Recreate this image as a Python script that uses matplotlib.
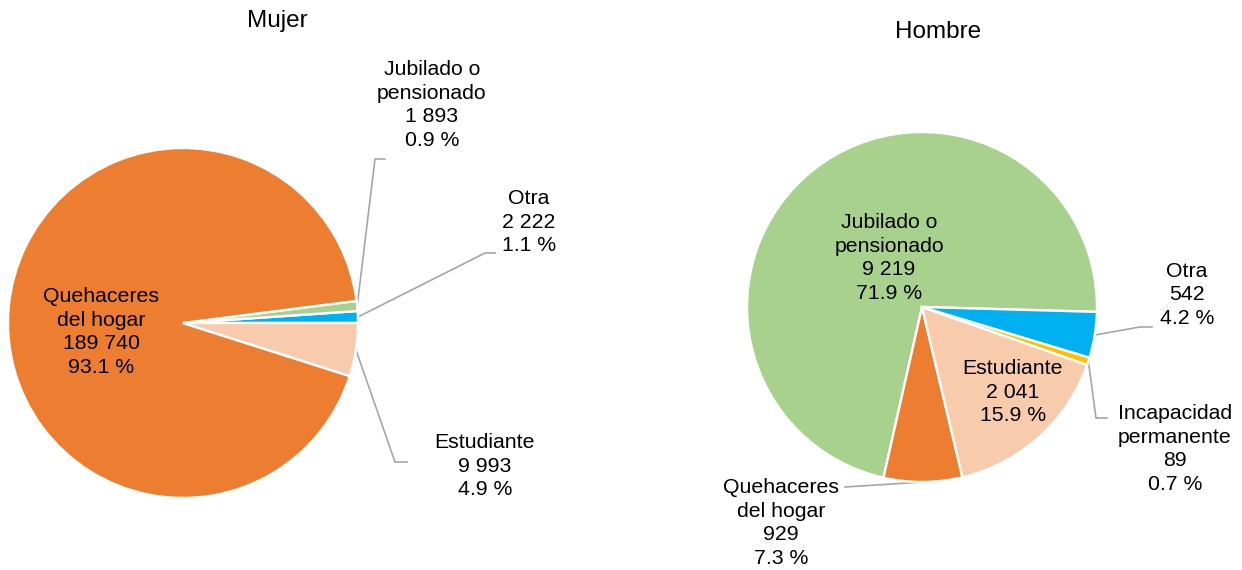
import numpy as np
import matplotlib
matplotlib.use("Agg")
from matplotlib import pyplot as plt

plt.rcParams['font.family'] = ['Liberation Sans', 'DejaVu Sans']

# Mujer
mujer_cats = ["Otra", "Jubilado o\npensionado", "Quehaceres\ndel hogar", "Estudiante"]
mujer_vals = [2222, 1893, 189740, 9993]
mujer_pct = [1.1, 0.9, 93.1, 4.9]
mujer_colors = ["#00B0F0", "#A9D18E", "#ED7D31", "#F8CBAD"]

# Hombre
hombre_cats = ["Jubilado o\npensionado", "Quehaceres\ndel hogar", "Estudiante",
               "Incapacidad\npermanente", "Otra"]
hombre_vals = [9219, 929, 2041, 89, 542]
hombre_pct = [71.9, 7.3, 15.9, 0.7, 4.2]
hombre_colors = ["#A9D18E", "#ED7D31", "#F8CBAD", "#FFC000", "#00B0F0"]

W, H = 1242, 570

def fmt(cat, v, p):
    return "%s\n%s\n%.1f %%" % (cat, f"{v:,}".replace(",", " "), p)

fig = plt.figure(figsize=(W / 100, H / 100), dpi=100)
ax = fig.add_axes([0, 0, 1, 1])

# label layout in image pixels: (x, y, leader elbow, leader end)
mujer_lab = [(529, 222, (485, 253), (495, 253)),
             (432, 105, (375, 159), (385, 159)),
             (101, 332, None, None),
             (485, 466, (395, 462), (407, 462))]
hombre_lab = [(889, 258, None, None),
              (781, 523, (845, 487), (845, 487)),
              (1013, 392, None, None),
              (1175, 449, (1096, 418), (1107, 418)),
              (1187, 295, (1140, 327), (1152, 327))]

def draw(vals, pct, cats, colors, labs, center, r, start, title, tpos):
    cx, cy = center[0], H - center[1]
    wedges, _ = ax.pie(vals, colors=colors, startangle=start, counterclock=True,
                       center=(cx, cy), radius=r,
                       wedgeprops=dict(edgecolor="white", linewidth=1.7))
    for w, v, p, c, (lx, ly, elb, end) in zip(wedges, vals, pct, cats, labs):
        ax.text(lx, H - ly, fmt(c, v, p), ha="center", va="center",
                fontsize=15.3, linespacing=1.31, color="black")
        if elb is not None:
            a = np.deg2rad((w.theta1 + w.theta2) / 2)
            xs = [cx + r * np.cos(a), elb[0], end[0]]
            ys = [cy + r * np.sin(a), H - elb[1], H - end[1]]
            ax.plot(xs, ys, color="#A6A6A6", lw=1.2, zorder=0.5)
    ax.text(tpos[0], H - tpos[1], title, ha="center", va="center", fontsize=17.5)

draw(mujer_vals, mujer_pct, mujer_cats, mujer_colors, mujer_lab,
     (183, 323), 175, 0, "Mujer", (277, 21))
draw(hombre_vals, hombre_pct, hombre_cats, hombre_colors, hombre_lab,
     (922, 307), 175, -1.6, "Hombre", (938, 32))

ax.set_xlim(0, W)
ax.set_ylim(0, H)
ax.axis("off")

fig.savefig("out.png", dpi=100, facecolor="white")
